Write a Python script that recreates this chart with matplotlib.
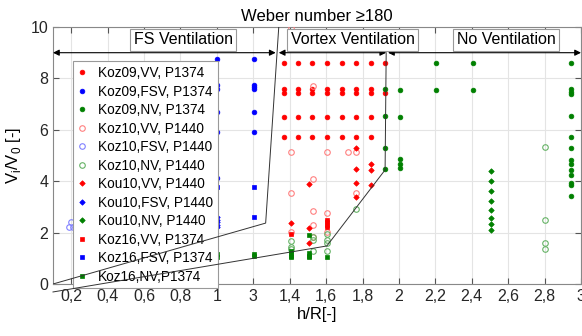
import matplotlib
matplotlib.use('Agg')
import matplotlib.pyplot as plt
import numpy as np

plt.rcParams['font.family'] = ['Liberation Sans', 'DejaVu Sans']

# x tick positions and the labels as printed on the original
xticks = [0.2, 0.4, 0.6, 0.8, 1.0, 1.2, 1.4, 1.6, 1.8, 2.0, 2.2, 2.4, 2.6, 2.8, 3.0]
xticklabels = ['0,2', '0,4', '0,6', '0,8', '1', '3', '1,4', '1,6', '1,8', '2', '2,2', '2,4', '2,6', '2,8', '3']
yticks = [0, 2, 4, 6, 8, 10]

# Koz09 (filled dots)
koz09_vv_x = [1.367, 1.444, 1.521, 1.604, 1.687, 1.764, 1.847, 1.924,
              1.367, 1.444, 1.521, 1.604, 1.687, 1.764, 1.847,
              1.367, 1.444, 1.521, 1.604, 1.687, 1.764, 1.847, 1.924,
              1.367, 1.444, 1.521, 1.604, 1.687, 1.764, 1.847,
              1.367, 1.444, 1.521, 1.604, 1.687, 1.764, 1.847]
koz09_vv_y = [8.6, 8.6, 8.6, 8.6, 8.6, 8.6, 8.6, 8.6,
              7.57, 7.57, 7.57, 7.57, 7.57, 7.57, 7.57,
              7.43, 7.43, 7.43, 7.43, 7.43, 7.43, 7.43, 7.43,
              6.5, 6.5, 6.5, 6.5, 6.5, 6.5, 6.5,
              5.72, 5.72, 5.72, 5.72, 5.72, 5.72, 5.72]
koz09_fsv_x = [1.0, 1.0, 1.0, 1.0, 1.0, 1.0, 1.202, 1.202, 1.202, 1.202, 1.202, 1.202]
koz09_fsv_y = [8.75, 7.74, 7.59, 6.7, 5.92, 4.12, 8.75, 7.74, 7.66, 7.59, 6.7, 5.92]
koz09_nv_x = [1.924, 1.924, 1.924, 1.924, 2.006, 2.006, 2.006, 2.006, 2.006,
              2.205, 2.205, 2.408, 2.408,
              2.943, 2.943, 2.943, 2.943, 2.943, 2.943, 2.943, 2.943, 2.943, 2.943, 2.943, 2.943, 2.943, 2.943]
koz09_nv_y = [7.57, 6.53, 5.3, 4.47, 7.55, 6.5, 4.86, 4.67, 4.51,
              8.6, 7.55, 8.6, 7.55,
              8.6, 7.57, 7.48, 7.39, 6.53, 5.73, 5.3, 4.82, 4.66, 4.44, 4.25, 3.94, 3.85, 3.42]

# Koz10 (open circles)
koz10_vv_x = [1.406, 1.406, 1.406, 1.406, 1.527, 1.527, 1.527, 1.527, 1.527,
              1.604, 1.604, 1.604, 1.72, 1.764, 1.764]
koz10_vv_y = [9.97, 5.13, 3.54, 2.02, 7.7, 4.09, 2.84, 2.3, 1.83,
              5.13, 2.76, 2.02, 5.13, 5.13, 3.54]
koz10_fsv_x = [0.2, 0.19, 0.21]
koz10_fsv_y = [2.4, 2.2, 2.2]
koz10_nv_x = [1.406, 1.406, 1.406, 1.527, 1.527, 1.527, 1.604, 1.604, 1.604, 1.604,
              1.764, 2.805, 2.805, 2.805, 2.805]
koz10_nv_y = [1.67, 1.45, 1.35, 1.83, 1.71, 1.28, 1.93, 1.71, 1.58, 1.28,
              2.92, 5.34, 2.49, 1.6, 1.36]

# Kou10 (diamonds)
kou10_vv_x = [1.406, 1.505, 1.505, 1.505, 1.764, 1.764, 1.764, 1.764, 1.847, 1.847, 1.847]
kou10_vv_y = [2.37, 3.89, 2.18, 1.6, 5.3, 4.47, 3.93, 3.39, 4.67, 4.44, 3.85]
kou10_fsv_x = [1.0, 1.0, 1.0, 1.0, 1.0]
kou10_fsv_y = [2.6, 2.5, 2.4, 2.3, 2.22]
kou10_nv_x = [2.508, 2.508, 2.508, 2.508, 2.508, 2.508, 2.508, 2.508]
kou10_nv_y = [4.41, 4.0, 3.6, 3.23, 2.89, 2.58, 2.32, 2.1]

# Koz16 (squares)
koz16_vv_x = [1.406, 1.604, 1.604, 1.604, 1.604]
koz16_vv_y = [1.93, 2.49, 2.4, 2.3, 2.2]
koz16_fsv_x = [1.0, 1.202, 1.202]
koz16_fsv_y = [3.77, 3.77, 2.6]
koz16_nv_x = [1.0, 1.0, 1.202, 1.202, 1.406, 1.406, 1.406, 1.406, 1.505, 1.505, 1.505, 1.505, 1.604]
koz16_nv_y = [1.17, 1.05, 1.15, 1.1, 1.3, 1.2, 1.1, 1.05, 1.9, 1.2, 1.1, 1.05, 1.05]

# regime boundaries
upper_x = [0.1, 1.268, 1.34]
upper_y = [0.0, 2.37, 10.0]
lower_x = [0.1, 1.604, 1.924, 1.93]
lower_y = [-0.31, 1.48, 4.44, 9.0]

RED, BLUE, GREEN = '#ff0000', '#0000ff', '#008000'
LRED, LBLUE, LGREEN = '#ff8080', '#8080ff', '#66b366'

series = [
  ('Koz09,VV, P1374', koz09_vv_x, koz09_vv_y, 'o', RED, True),
  ('Koz09,FSV, P1374', koz09_fsv_x, koz09_fsv_y, 'o', BLUE, True),
  ('Koz09,NV, P1374', koz09_nv_x, koz09_nv_y, 'o', GREEN, True),
  ('Koz10,VV, P1440', koz10_vv_x, koz10_vv_y, 'o', LRED, False),
  ('Koz10,FSV, P1440', koz10_fsv_x, koz10_fsv_y, 'o', LBLUE, False),
  ('Koz10,NV, P1440', koz10_nv_x, koz10_nv_y, 'o', LGREEN, False),
  ('Kou10,VV, P1440', kou10_vv_x, kou10_vv_y, 'D', RED, True),
  ('Kou10,FSV, P1440', kou10_fsv_x, kou10_fsv_y, 'D', BLUE, True),
  ('Kou10,NV, P1440', kou10_nv_x, kou10_nv_y, 'D', GREEN, True),
  ('Koz16,VV, P1374', koz16_vv_x, koz16_vv_y, 's', RED, True),
  ('Koz16,FSV, P1374', koz16_fsv_x, koz16_fsv_y, 's', BLUE, True),
  ('Koz16,NV,P1374', koz16_nv_x, koz16_nv_y, 's', GREEN, True),
]

fig = plt.figure(figsize=(5.82, 3.36), dpi=100)
ax = fig.add_axes([53 / 582, 1 - 284 / 336, 528 / 582, 257 / 336])

for label, xs, ys, m, c, filled in series:
  ms = {'o': 3.4, 'D': 2.8, 's': 3.0}[m] if filled else 4.0
  ax.plot(xs, ys, linestyle='none', marker=m, ms=ms, color=c,
          markerfacecolor=c if filled else 'none', markeredgewidth=0.8 if not filled else 0.5,
          label=label, zorder=3)

ax.set_xlim(0.1, 3.0)
ax.set_ylim(0, 10)
ax.set_xticks(xticks)
ax.set_xticklabels(xticklabels)
ax.set_yticks(yticks)
ax.grid(True, color='#e4e4e4', lw=0.8)
ax.set_axisbelow(True)
ax.tick_params(direction='in', top=True, right=True, length=4, labelsize=11.5, colors='#262626')
ax.tick_params(axis='both', color='#555555')
for s in ax.spines.values():
  s.set_color('#888888')
  s.set_linewidth(0.8)

ax.set_xlabel('h/R[-]', fontsize=12, labelpad=2)
ax.set_ylabel('V$_\\mathregular{i}$/V$_\\mathregular{0}$ [-]', fontsize=12, labelpad=5)
ax.set_title('Weber number \u2265180', fontsize=12, pad=4)

leg = ax.legend(loc='upper left', bbox_to_anchor=(0.038, 0.866), fontsize=9.8,
                handlelength=0.6, handletextpad=0.9, labelspacing=0.33, borderpad=0.35,
                fancybox=False, framealpha=1, edgecolor='#999999', borderaxespad=0)
leg.get_frame().set_linewidth(0.8)
leg.set_zorder(4)

# boundary lines drawn over the legend
ax.plot(upper_x, upper_y, color='#333333', lw=0.7, zorder=6, clip_on=True)
ax.plot(lower_x, lower_y, color='#333333', lw=0.7, zorder=6, clip_on=False)

# regime arrows
arrows = [(0.1, 1.323), (1.34, 1.93), (1.94, 3.0)]
for x0, x1 in arrows:
  ax.annotate('', xy=(x1, 9.0), xytext=(x0, 9.0),
              arrowprops=dict(arrowstyle='<|-|>', color='black', lw=0.8,
                              mutation_scale=9, shrinkA=0, shrinkB=0),
              annotation_clip=False, zorder=7)

box = dict(boxstyle='square,pad=0.22', facecolor='white', edgecolor='#999999', lw=0.8)
ax.text(0.816, 9.5, 'FS Ventilation', ha='center', va='center', fontsize=11.5, bbox=box, zorder=7)
ax.text(1.745, 9.5, 'Vortex Ventilation', ha='center', va='center', fontsize=11.5, bbox=box, zorder=7)
ax.text(2.59, 9.5, 'No Ventilation', ha='center', va='center', fontsize=11.5, bbox=box, zorder=7)

plt.savefig('out.png', dpi=100)
